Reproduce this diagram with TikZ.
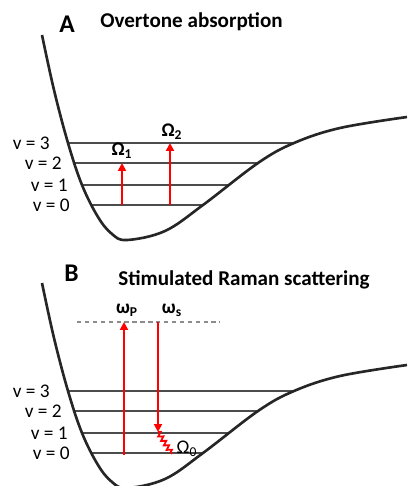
\documentclass[tikz,border=0pt]{standalone}
\usepackage{fontspec}
\setmainfont{Carlito}
\usetikzlibrary{positioning,arrows.meta,decorations.pathmorphing}

\begin{document}
\begin{tikzpicture}[
    x=0.02cm, y=-0.02cm,
    well/.style={line width=1.5pt, draw=black!85, line join=round},
    level/.style={line width=0.7pt, draw=black!70},
    lvl/.style={anchor=east, inner sep=0pt, font=\fontsize{11}{13}\selectfont},
    ttl/.style={anchor=base west, inner sep=0pt, font=\fontsize{12}{14}\selectfont\bfseries},
    panel/.style={ttl, font=\fontsize{14.5}{16}\selectfont\bfseries},
    photon/.style={-{Triangle[length=4.5pt, width=4.5pt]}, line width=1.6pt, draw=red},
    relax/.style={draw=red, line width=1pt, decorate,
        decoration={zigzag, segment length=3pt, amplitude=1.3pt}},
    virt/.style={draw=black!45, line width=0.6pt, dash pattern=on 2.5pt off 2pt},
    freq/.style={inner sep=0pt, font=\fontsize{11}{13}\selectfont\bfseries}
]
\useasboundingbox (0,0) rectangle (407,486);

% Potential wells with their vibrational levels (A on top, B below)
\foreach \p/\dy in {A/0, B/248} {
  \begin{scope}[shift={(0,\dy)}]
    \foreach \v/\y/\xl/\xr/\xt in {0/205/92/203/70, 1/185/82/230/68,
                                   2/163/73/258/62, 3/143/68/294/50} {
      \coordinate (\p-l\v) at (\xl,\y);
      \coordinate (\p-r\v) at (\xr,\y);
      \draw[level] (\p-l\v) -- (\p-r\v);
      \node[lvl] (\p-v\v) at (\xt,\y) {v = \v};
    }
    \draw[well] plot[smooth, tension=0.6] coordinates {(42,35) (54,90)
      (68,143) (82,185) (98,217) (112,234) (127,240) (165,231)
      (203,205) (258,163) (294,143) (340,128) (407,117)};
  \end{scope}
}

% Panel titles
\node[panel] (labA) at (59,33) {A};
\node[ttl] (ttlA) at (100,28) {Overtone absorption};
\node[panel] (labB) at (64,281) {B};
\node[ttl] (ttlB) at (118,285) {Stimulated Raman scattering};

% A: overtone transitions
\coordinate (om1-foot) at (122,205);
\coordinate (om1-tip) at (122,163);
\coordinate (om2-foot) at (170,205);
\coordinate (om2-tip) at (170,143);
\draw[photon] (om1-foot) -- (om1-tip);
\draw[photon] (om2-foot) -- (om2-tip);
\node[freq] (om1) at (122,151) {Ω\textsubscript{1}};
\node[freq] (om2) at (172,132) {Ω\textsubscript{2}};

% B: virtual level, pump and Stokes
\coordinate (virt-l) at (77,322);
\coordinate (virt-r) at (220,322);
\draw[virt] (virt-l) -- (virt-r);
\coordinate (wp-foot) at (124,455);
\coordinate (wp-tip) at (124,322);
\coordinate (ws-top) at (158,322);
\coordinate (ws-tip) at (158,432);
\coordinate (relax-end) at (172,454);
\draw[photon] (wp-foot) -- (wp-tip);
\draw[photon] (ws-top) -- (ws-tip);
\draw[relax] (ws-tip) -- (relax-end);
\node[freq] (wp) at (127,310) {ω\textsubscript{P}};
\node[freq] (ws) at (172,310) {ω\textsubscript{s}};
\node[freq, font=\fontsize{11}{13}\selectfont] (om0) at (187,449) {Ω\textsubscript{0}};

\end{tikzpicture}
\end{document}
